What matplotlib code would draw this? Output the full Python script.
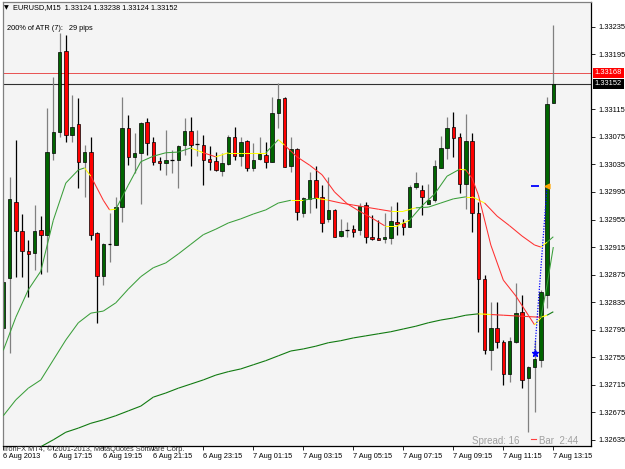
import matplotlib
matplotlib.use('Agg')
import matplotlib.pyplot as plt
from matplotlib.collections import LineCollection
from matplotlib.patches import Rectangle
from matplotlib.lines import Line2D
from matplotlib.transforms import blended_transform_factory
import numpy as np

plt.rcParams['font.family'] = ['Liberation Sans', 'DejaVu Sans']

# ---- EURUSD M15, 89 bars (6 Aug 15:15 .. 7 Aug 13:15) ----
opens = [1.32797, 1.32870, 1.32980, 1.32938, 1.32909, 1.32906, 1.32940, 1.32932, 1.33052, 1.33082,
         1.33200, 1.33078, 1.33094, 1.33038, 1.33053, 1.32935, 1.32873, 1.32919, 1.32918, 1.32973,
         1.33088, 1.33046, 1.33052, 1.33097, 1.33068, 1.33040, 1.33037, 1.33041, 1.33041, 1.33063,
         1.33084, 1.33065, 1.33063, 1.33043, 1.33040, 1.33026, 1.33036, 1.33075, 1.33047, 1.33069,
         1.33030, 1.33043, 1.33049, 1.33038, 1.33110, 1.33132, 1.33033, 1.33057, 1.32965, 1.32985,
         1.33012, 1.32988, 1.32956, 1.32969, 1.32931, 1.32940, 1.32941, 1.32940, 1.32976, 1.32930,
         1.32928, 1.32927, 1.32928, 1.32951, 1.32950, 1.32944, 1.33002, 1.32998, 1.32978, 1.32983,
         1.33030, 1.33059, 1.33089, 1.33075, 1.33007, 1.33069, 1.32965, 1.32869, 1.32765, 1.32797,
         1.32777, 1.32731, 1.32777, 1.32821, 1.32725, 1.32741, 1.32751, 1.32845, 1.33124]
highs = [1.32911, 1.33017, 1.33071, 1.32963, 1.32925, 1.32976, 1.32960, 1.33117, 1.33162, 1.33226,
         1.33223, 1.33136, 1.33132, 1.33063, 1.33075, 1.32937, 1.32921, 1.32965, 1.32988, 1.33133,
         1.33107, 1.33081, 1.33097, 1.33103, 1.33075, 1.33046, 1.33085, 1.33056, 1.33063, 1.33103,
         1.33104, 1.33085, 1.33078, 1.33062, 1.33053, 1.33052, 1.33078, 1.33089, 1.33075, 1.33071,
         1.33066, 1.33075, 1.33068, 1.33133, 1.33153, 1.33133, 1.33075, 1.33059, 1.32988, 1.33024,
         1.33033, 1.33005, 1.33017, 1.32970, 1.32956, 1.32951, 1.32947, 1.32979, 1.32980, 1.32962,
         1.32954, 1.32965, 1.32975, 1.32980, 1.32956, 1.33005, 1.33024, 1.33005, 1.33007, 1.33041,
         1.33076, 1.33104, 1.33111, 1.33081, 1.33108, 1.33081, 1.32980, 1.32874, 1.32835, 1.32835,
         1.32780, 1.32784, 1.32863, 1.32845, 1.32742, 1.32780, 1.32853, 1.33133, 1.33238]
lows = [1.32783, 1.32761, 1.32872, 1.32872, 1.32842, 1.32882, 1.32876, 1.32879, 1.33041, 1.33075,
        1.33068, 1.33068, 1.33001, 1.32988, 1.32925, 1.32805, 1.32860, 1.32893, 1.32918, 1.32951,
        1.33034, 1.33023, 1.32978, 1.33049, 1.33034, 1.33027, 1.33020, 1.33023, 1.33001, 1.33049,
        1.33033, 1.33047, 1.33005, 1.33027, 1.33026, 1.33018, 1.33034, 1.33041, 1.33033, 1.33026,
        1.33026, 1.33041, 1.33030, 1.33038, 1.33088, 1.33031, 1.33024, 1.32954, 1.32959, 1.32965,
        1.32972, 1.32937, 1.32951, 1.32930, 1.32930, 1.32930, 1.32930, 1.32932, 1.32921, 1.32925,
        1.32925, 1.32921, 1.32919, 1.32932, 1.32932, 1.32944, 1.33000, 1.32962, 1.32978, 1.32980,
        1.33030, 1.33043, 1.33046, 1.32994, 1.32970, 1.32937, 1.32792, 1.32760, 1.32736, 1.32768,
        1.32715, 1.32719, 1.32776, 1.32710, 1.32646, 1.32675, 1.32741, 1.32826, 1.33124]
closes = [1.32864, 1.32985, 1.32938, 1.32909, 1.32905, 1.32938, 1.32932, 1.33053, 1.33082, 1.33198,
          1.33078, 1.33089, 1.33038, 1.33053, 1.32932, 1.32873, 1.32919, 1.32919, 1.32973, 1.33088,
          1.33046, 1.33052, 1.33095, 1.33066, 1.33038, 1.33037, 1.33041, 1.33041, 1.33062, 1.33084,
          1.33063, 1.33065, 1.33041, 1.33038, 1.33027, 1.33037, 1.33075, 1.33047, 1.33068, 1.33030,
          1.33041, 1.33050, 1.33038, 1.33110, 1.33130, 1.33031, 1.33057, 1.32966, 1.32986, 1.33012,
          1.32986, 1.32950, 1.32969, 1.32930, 1.32938, 1.32940, 1.32937, 1.32975, 1.32930, 1.32927,
          1.32925, 1.32930, 1.32953, 1.32949, 1.32944, 1.33002, 1.33008, 1.32988, 1.32983, 1.33033,
          1.33059, 1.33088, 1.33073, 1.33007, 1.33069, 1.32965, 1.32869, 1.32765, 1.32797, 1.32777,
          1.32731, 1.32779, 1.32819, 1.32722, 1.32741, 1.32752, 1.32850, 1.33123, 1.33152]

# moving averages (bar index, price)
fast_bars = [0, 2, 4, 6, 8, 10, 12, 13, 14, 16, 17, 18, 20, 22, 24, 26, 28, 30, 32, 34, 36, 38, 40, 42,
             44, 45, 47, 49, 51, 53, 55, 57, 59, 61, 63, 65, 67, 69, 71, 73, 74, 75, 76, 78, 80, 82,
             84, 85, 86, 87, 88]
fast_ma = [1.32765, 1.32813, 1.32853, 1.32880, 1.32954, 1.33008, 1.33027, 1.33030, 1.33018, 1.32983,
           1.32969, 1.32970, 1.33005, 1.33039, 1.33047, 1.33052, 1.33053, 1.33059, 1.33052, 1.33046,
           1.33052, 1.33052, 1.33052, 1.33052, 1.33071, 1.33063, 1.33046, 1.33034, 1.33020, 1.32995,
           1.32978, 1.32967, 1.32957, 1.32946, 1.32946, 1.32954, 1.32975, 1.32992, 1.33018, 1.33028,
           1.33027, 1.33015, 1.32991, 1.32918, 1.32867, 1.32844, 1.32816, 1.32802, 1.32812, 1.32860,
           1.32915]
mid_bars = [0, 2, 4, 6, 8, 10, 12, 14, 16, 18, 20, 22, 24, 26, 28, 30, 32, 34, 36, 38, 40, 42, 44,
            46, 48, 50, 52, 54, 56, 58, 60, 62, 64, 66, 68, 70, 72, 74, 75, 77, 79, 81, 83, 85, 86,
            87, 88]
mid_ma = [1.32670, 1.32693, 1.32710, 1.32722, 1.32751, 1.32780, 1.32805, 1.32819, 1.32822, 1.32834,
          1.32854, 1.32872, 1.32885, 1.32892, 1.32905, 1.32919, 1.32933, 1.32941, 1.32950, 1.32956,
          1.32963, 1.32969, 1.32979, 1.32983, 1.32983, 1.32986, 1.32983, 1.32979, 1.32976, 1.32973,
          1.32970, 1.32967, 1.32967, 1.32972, 1.32973, 1.32979, 1.32985, 1.32988, 1.32988, 1.32979,
          1.32960, 1.32946, 1.32931, 1.32918, 1.32915, 1.32922, 1.32930]
slow_bars = [6, 8, 10, 12, 14, 16, 18, 20, 22, 24, 26, 28, 30, 32, 34, 36, 38, 40, 42, 44, 46, 48,
             50, 52, 54, 56, 58, 60, 62, 64, 66, 68, 70, 72, 74, 76, 78, 80, 82, 84, 86, 87, 88]
slow_ma = [1.32625, 1.32635, 1.32646, 1.32652, 1.32659, 1.32664, 1.32670, 1.32677, 1.32684, 1.32697,
           1.32703, 1.32710, 1.32716, 1.32722, 1.32729, 1.32734, 1.32738, 1.32744, 1.32750, 1.32757,
           1.32764, 1.32767, 1.32771, 1.32776, 1.32779, 1.32783, 1.32786, 1.32789, 1.32792, 1.32796,
           1.32800, 1.32805, 1.32809, 1.32812, 1.32816, 1.32818, 1.32817, 1.32816, 1.32815, 1.32814,
           1.32813, 1.32816, 1.32821]

ask = 1.33168
price_ticks = [1.33235, 1.33195, 1.33115, 1.33075, 1.33035, 1.32995, 1.32955, 1.32915,
               1.32875, 1.32835, 1.32795, 1.32755, 1.32715, 1.32675, 1.32635]
time_tick_bars = [0, 8, 16, 24, 32, 40, 48, 56, 64, 72, 80, 88]
time_labels = ['6 Aug 2013', '6 Aug 17:15', '6 Aug 19:15', '6 Aug 21:15', '6 Aug 23:15',
               '7 Aug 01:15', '7 Aug 03:15', '7 Aug 05:15', '7 Aug 07:15', '7 Aug 09:15',
               '7 Aug 11:15', '7 Aug 13:15']

# trade marks
trade_bars = [85, 87]
trade_prices = [1.32761, 1.33004]

W, H = 625, 469
fig = plt.figure(figsize=(W / 100, H / 100), dpi=100)
fig.patch.set_facecolor('white')
ax = fig.add_axes([2.5 / W, 1 - 446 / H, 588.5 / W, 444 / H])
ax.set_facecolor('#f4f4f4')

# candles
for i in range(len(closes)):
    o, h, l, c = opens[i], highs[i], lows[i], closes[i]
    bull = c >= o
    wick = '#808080' if bull else '#000000'
    ax.vlines(i, l, h, color=wick, lw=0.9, zorder=2)
    if abs(c - o) < 0.000015:
        ax.hlines(o, i - 0.3, i + 0.3, color='#000000', lw=0.9, zorder=2)
    else:
        ax.add_patch(Rectangle((i - 0.28, min(o, c)), 0.56, abs(c - o),
                               facecolor='#006400' if bull else '#ff0000',
                               edgecolor='#000000', lw=0.5, zorder=2.5))


def draw_ma(bars, vals, up_col, lw):
    segs, cols = [], []
    prev = 0
    for k in range(len(bars) - 1):
        slope = (vals[k + 1] - vals[k]) / (bars[k + 1] - bars[k])
        d = 0 if abs(slope) < 2e-6 else (1 if slope > 0 else -1)
        if d == 0 or (prev != 0 and d != prev):
            col = '#ffff00'
        else:
            col = up_col if d > 0 else '#ff3030'
        if d != 0:
            prev = d
        segs.append([(bars[k], vals[k]), (bars[k + 1], vals[k + 1])])
        cols.append(col)
    ax.add_collection(LineCollection(segs, colors=cols, linewidths=lw, zorder=3))


draw_ma(slow_bars, slow_ma, '#117a11', 0.8)
draw_ma(mid_bars, mid_ma, '#3a9e3a', 0.75)
draw_ma(fast_bars, fast_ma, '#3a9e3a', 0.75)

# bid / ask lines
ax.axhline(ask, color='#e85050', lw=0.7, zorder=1.5)
ax.axhline(closes[-1], color='#303030', lw=0.8, zorder=1.5)

# trade marks
ax.plot(trade_bars, trade_prices, color='#0000ff', lw=0.9, ls=(0, (1, 1.2)), zorder=4)
ax.plot(trade_bars[0], trade_prices[0], marker='*', color='#0000ff', ms=5, zorder=5)
ax.plot(trade_bars[0], trade_prices[1], marker='_', color='#0000ff', ms=6, mew=1.3, zorder=5)
ax.plot(trade_bars[1], trade_prices[1], marker='<', color='#ffa500', ms=3.5, zorder=5)

ax.set_xlim(-0.13, 94.03)
ax.set_ylim(1.32626, 1.33271)

ax.yaxis.tick_right()
ax.set_yticks(price_ticks)
ax.set_yticklabels([f'{v:.5f}' for v in price_ticks])
ax.tick_params(axis='y', length=3, width=0.6, labelsize=5.4, pad=2)
ax.set_xticks(time_tick_bars)
ax.set_xticklabels(time_labels, ha='left')
ax.tick_params(axis='x', length=3, width=0.6, labelsize=5.3, pad=2)
for s in ax.spines.values():
    s.set_color('#000000')
    s.set_linewidth(0.9)
ax.spines['top'].set_color('#808080')
ax.spines['left'].set_color('#808080')

tr = blended_transform_factory(ax.transAxes, ax.transData)
ax.text(1.006, ask, f'{ask:.5f}', transform=tr, color='white', fontsize=5.4, va='center',
        ha='left', clip_on=False, bbox=dict(boxstyle='square,pad=0.25', fc='#ff0000', ec='none'))
ax.text(1.006, closes[-1], f'{closes[-1]:.5f}', transform=tr, color='white', fontsize=5.4,
        va='center', ha='left', clip_on=False,
        bbox=dict(boxstyle='square,pad=0.25', fc='#000000', ec='none'))


def px(x, y):
    return x / W, 1 - y / H


fig.text(*px(4, 8), '\u25bc', fontsize=4.5, va='center', family=['DejaVu Sans'])
fig.text(*px(13, 8), f'EURUSD,M15  {opens[-1]:.5f} {highs[-1]:.5f} {lows[-1]:.5f} {closes[-1]:.5f}',
         fontsize=5.3, va='center')
fig.text(*px(7, 28), '200% of ATR (7):   29 pips', fontsize=5.3, va='center')
fig.text(*px(4, 449), 'IronFX MT4, \u00a9 2001-2013, MetaQuotes Software Corp.', fontsize=5.3,
         va='center', color='#303030')
fig.text(*px(472, 441), 'Spread: 16', fontsize=7, va='center', color='#a0a0a0')
fig.text(*px(539, 441), 'Bar  2:44', fontsize=7, va='center', color='#a0a0a0')
fig.add_artist(Line2D([531 / W, 536 / W], [1 - 439 / H, 1 - 439 / H], color='#ff4040', lw=0.8))

fig.savefig('out.png', dpi=100)
